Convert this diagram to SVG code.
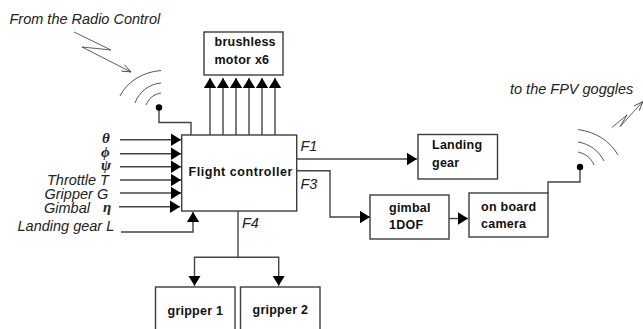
<svg xmlns="http://www.w3.org/2000/svg" width="643" height="329" viewBox="0 0 643 329">
<style>
.box{fill:#fff;stroke:#3c3c3c;stroke-width:1.4}
.ln{fill:none;stroke:#444;stroke-width:1.4}
.thin{fill:none;stroke:#333;stroke-width:.8}
.arc{fill:none;stroke:#555;stroke-width:1}
.b{font:bold 12.5px "Liberation Sans",Arial,sans-serif;fill:#111;letter-spacing:.25px}
.i{font:italic 14.5px "Liberation Sans",Arial,sans-serif;fill:#222}
.g{font:italic bold 15px "Liberation Serif","DejaVu Serif",serif;fill:#222}
</style>
<defs>
<marker id="ah" markerUnits="userSpaceOnUse" markerWidth="12" markerHeight="13" refX="10" refY="6.5" orient="auto"><path d="M0 0.300L10 6.500L0 12.700Z" fill="#000"/></marker>
<marker id="op" markerUnits="userSpaceOnUse" markerWidth="12" markerHeight="10" refX="10" refY="5" orient="auto"><path d="M1 1.500L10 5L1 8.500" fill="none" stroke="#333" stroke-width=".8"/></marker>
</defs>
<rect width="643" height="329" fill="#fff"/>
<g id="connectors">
<path class="ln" d="M210 135V78" marker-end="url(#ah)"/>
<path class="ln" d="M223 135V78" marker-end="url(#ah)"/>
<path class="ln" d="M236 135V78" marker-end="url(#ah)"/>
<path class="ln" d="M249 135V78" marker-end="url(#ah)"/>
<path class="ln" d="M262 135V78" marker-end="url(#ah)"/>
<path class="ln" d="M275 135V78" marker-end="url(#ah)"/>
<path class="ln" d="M120 139.700H181" marker-end="url(#ah)"/>
<path class="ln" d="M120 153.700H181" marker-end="url(#ah)"/>
<path class="ln" d="M120 166.700H181" marker-end="url(#ah)"/>
<path class="ln" d="M120 180H181" marker-end="url(#ah)"/>
<path class="ln" d="M120 193H181" marker-end="url(#ah)"/>
<path class="ln" d="M119 206.700H180" marker-end="url(#ah)"/>
<path class="ln" d="M121 232H193V212" marker-end="url(#ah)"/>
<path class="ln" d="M238 211V257.300"/>
<path class="ln" d="M238 257.300H194.500V285.700" marker-end="url(#ah)"/>
<path class="ln" d="M238 257.300H278.700V285.700" marker-end="url(#ah)"/>
<path class="ln" d="M297 159H417" marker-end="url(#ah)"/>
<path class="ln" d="M297 170.700H330V217H370" marker-end="url(#ah)"/>
<path class="ln" d="M449 218.500H468" marker-end="url(#ah)"/>
<path class="ln" d="M548 193V182H580V167"/>
<path class="ln" d="M191 135V122.500H159V107"/>
<circle cx="580" cy="167" r="3.200" fill="#000"/>
<circle cx="159" cy="107.500" r="3.200" fill="#000"/>
<path class="thin" d="M74 32L111 50L82 47L131 72" marker-end="url(#op)"/>
<path class="thin" d="M611.700 127.700L627 115L620 126.700L642.700 101.700" marker-end="url(#op)"/>
<path class="arc" d="M161 70.500C142 72 127 82 120 96"/>
<path class="arc" d="M161 83C149 84 139 92 135 103"/>
<path class="arc" d="M161 93C154 94 149 98 146 105"/>
<path class="arc" d="M578 129.500C596 132 610 141 618 155"/>
<path class="arc" d="M578 142C590 144 599 151 604 161"/>
<path class="arc" d="M578 152C586 154 591 158 594 165"/>
</g>
<g id="motor"><rect class="box" x="204" y="32" width="79" height="43"/><text class="b" x="214.500" y="46">brushless</text><text class="b" x="214.500" y="63.500">motor x6</text></g>
<g id="controller"><rect class="box" x="181.700" y="135" width="115" height="76"/><text class="b" x="188.500" y="176" style="letter-spacing:.55px">Flight controller</text></g>
<g id="landing"><rect class="box" x="418" y="134.500" width="79.500" height="44.500"/><text class="b" x="432" y="149">Landing</text><text class="b" x="432" y="166.500">gear</text></g>
<g id="gimbal"><rect class="box" x="370" y="195" width="79" height="44"/><text class="b" x="389" y="212">gimbal</text><text class="b" x="389" y="229">1DOF</text></g>
<g id="camera"><rect class="box" x="469" y="193" width="79" height="44"/><text class="b" x="481" y="211">on board</text><text class="b" x="481" y="228">camera</text></g>
<g id="gripper1"><rect class="box" x="155.500" y="287" width="79.500" height="50"/><text class="b" x="167.500" y="315">gripper 1</text></g>
<g id="gripper2"><rect class="box" x="240.500" y="287" width="79.500" height="50"/><text class="b" x="252.500" y="314">gripper 2</text></g>
<g id="labels">
<text class="i" x="9.500" y="24">From the Radio Control</text>
<text class="i" x="510" y="94">to the FPV goggles</text>
<text class="i" x="300.500" y="151">F1</text>
<text class="i" x="300.500" y="189">F3</text>
<text class="i" x="242" y="228">F4</text>
<text class="g" x="102" y="143">θ</text>
<text class="g" x="101" y="157">ϕ</text>
<text class="g" x="101" y="170">ψ</text>
<text class="i" x="47" y="185">Throttle <tspan x="100">T</tspan></text>
<text class="i" x="44.500" y="199">Gripper G</text>
<text class="i" x="44" y="213">Gimbal</text>
<text class="g" x="103" y="212">η</text>
<text class="i" x="17.500" y="231">Landing gear L</text>
</g>
</svg>
